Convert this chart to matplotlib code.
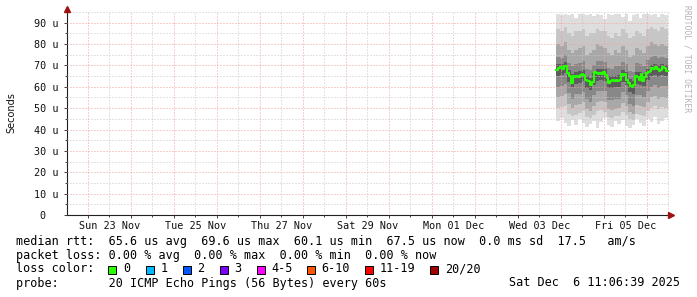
"""SmokePing-style latency graph: grey smoke bands, green median, rrdtool legend."""

import matplotlib

matplotlib.use("Agg")
import matplotlib.pyplot as plt
import pandas as pd
from matplotlib.patches import Rectangle
from matplotlib.ticker import FixedLocator, FuncFormatter

# --- data (microseconds) ------------------------------------------------------

VIEW_START = "2025-11-22 12:20"
VIEW_END = "2025-12-06 12:20"
SMOKE_START = "2025-12-03 21:30"  # smoke columns, one every 2 h
MEDIAN_START = "2025-12-03 21:30"  # median, one every hour

median_us = [
    68.0, 68.6, 69.2, 68.4, 69.5, 69.6,
    66.5,
    65.0, 61.8, 65.2, 64.7, 65.0, 64.8, 65.3, 66.1, 65.6,
    63.2, 62.6, 62.9, 61.0, 62.3,
    67.0, 66.4, 66.0, 66.6, 66.2, 66.8, 65.6,
    64.2, 61.8, 62.6, 63.0, 62.8, 63.2, 62.9, 63.4,
    66.2, 65.4, 66.0, 63.1,
    62.0, 60.6, 60.1, 61.0,
    65.2, 64.8,
    63.0, 66.2, 62.6, 64.6,
    66.3, 66.8, 67.5,
    69.0, 68.4, 69.2, 68.5, 67.6, 68.0, 69.4, 69.0, 67.5,
]

# sorted-ping envelopes per smoke column: outermost (max/min) to innermost
ping_max = [94.0, 93.6, 94.2, 93.8, 94.1, 92.0, 93.9, 94.2, 93.5, 94.0, 93.2,
            94.1, 93.8, 91.5, 94.0, 93.7, 94.2, 93.9, 92.6, 94.0, 90.6, 93.8,
            94.1, 92.2, 93.9, 94.0, 93.5, 94.1, 92.8, 94.0, 93.6]
ping_hi4 = [87, 86, 88, 85, 84, 86, 86, 87, 84, 85, 85, 87, 86, 86, 84, 83,
            85, 84, 87, 85, 83, 84, 86, 85, 84, 87, 88, 87, 86, 88, 87]
ping_hi3 = [80, 79, 81, 77, 76, 77, 78, 79, 75, 76, 77, 80, 79, 78, 76, 75,
            77, 76, 79, 77, 74, 75, 78, 77, 76, 79, 81, 80, 79, 80, 79]
ping_hi2 = [74, 73.5, 75, 71, 69.5, 70.5, 71, 72, 68.5, 68, 70, 72, 72, 71.5,
            69, 68.5, 69.5, 69.5, 71.5, 70.5, 67.5, 67, 71, 70.5, 69.5, 72.5,
            74, 74.5, 73.5, 74, 73.5]
ping_hi1 = [70.5, 70.8, 71.8, 68.0, 65.8, 66.9, 67.2, 68.0, 65.0, 64.3, 66.6,
            68.3, 68.5, 68.1, 65.2, 65.0, 65.2, 65.4, 67.9, 66.8, 63.6, 62.9,
            67.1, 66.8, 65.8, 68.5, 70.3, 70.8, 70.1, 70.7, 70.3]
ping_lo1 = [65.0, 65.6, 66.5, 62.3, 60.0, 61.4, 61.8, 62.6, 59.6, 58.6, 61.0,
            62.8, 63.1, 62.8, 59.4, 59.4, 59.8, 59.7, 62.3, 60.9, 57.5, 56.8,
            61.3, 61.0, 60.2, 63.1, 65.0, 65.5, 64.7, 65.4, 65.0]
ping_lo2 = [60.0, 60.5, 61.5, 57.0, 54.5, 56.5, 56.8, 57.6, 54.3, 53.0, 56.0,
            58.0, 58.2, 57.8, 54.0, 53.8, 54.5, 54.4, 57.5, 56.0, 52.0, 51.0,
            56.3, 56.0, 55.0, 58.2, 60.0, 60.8, 59.6, 60.5, 60.2]
ping_lo3 = [55.0, 55.5, 56.5, 52.0, 50.0, 51.5, 52.0, 53.0, 49.5, 48.5, 51.0,
            53.0, 53.4, 52.8, 49.5, 49.2, 49.8, 50.0, 52.6, 51.0, 48.0, 47.2,
            51.5, 51.2, 50.4, 53.0, 55.0, 55.6, 54.5, 55.2, 54.8]
ping_lo4 = [50.0, 50.5, 51.0, 47.5, 46.5, 47.0, 47.8, 48.5, 46.0, 45.5, 46.8,
            48.5, 49.0, 48.2, 45.8, 45.5, 46.2, 46.2, 48.2, 47.0, 45.0, 44.5,
            47.2, 47.0, 46.5, 48.6, 50.2, 50.8, 49.8, 50.4, 50.0]
ping_min = [44.0, 45.5, 43.0, 41.5, 44.5, 42.0, 45.0, 43.2, 41.0, 42.8, 44.0,
            40.8, 43.5, 45.2, 42.0, 41.2, 43.8, 42.5, 44.6, 41.8, 40.5, 42.2,
            44.8, 43.0, 41.6, 45.0, 43.4, 46.0, 42.6, 44.2, 45.4]

y_ticks = [0, 10, 20, 30, 40, 50, 60, 70, 80, 90]
y_minor_ticks = [5, 15, 25, 35, 45, 55, 65, 75, 85, 95]
y_tick_labels = ["0  ", "10 u", "20 u", "30 u", "40 u", "50 u", "60 u",
                 "70 u", "80 u", "90 u"]
label_days = ["2025-11-23", "2025-11-25", "2025-11-27", "2025-11-29",
              "2025-12-01", "2025-12-03", "2025-12-05"]

loss_labels = ["0", "1", "2", "3", "4-5", "6-10", "11-19", "20/20"]
loss_colors = ["#26ff00", "#00b8ff", "#0059ff", "#7e00ff", "#ff00ff",
               "#ff5500", "#ff0000", "#a10000"]

legend_rows = [
    "median rtt:  65.6 us avg  69.6 us max  60.1 us min  67.5 us now  0.0 ms sd  17.5   am/s",
    "packet loss: 0.00 % avg  0.00 % max  0.00 % min  0.00 % now",
    "loss color:",
    "probe:       20 ICMP Echo Pings (56 Bytes) every 60s",
]
timestamp = "Sat Dec  6 11:06:39 2025"

# --- style --------------------------------------------------------------------

W, H, DPI = 697, 297, 100
MONO = "DejaVu Sans Mono"
SMOKE_SHADES = ["#dedede", "#c6c6c6", "#a8a8a8", "#888888", "#5c5c5c",
                "#383838"]  # outer -> inner
MGRID = "#f2a0a0"
GRID = "#c8c8c8"
ARROW = "#a01010"
DOTS = (0, (1, 2))
LOSS_X = [108, 145.5, 182.5, 219.5, 256.5, 306.5, 365, 430]  # box left, px


def px(x, y):
    """Image pixel (top-left origin) -> figure fraction."""
    return x / W, 1 - y / H


def main():
    fig = plt.figure(figsize=(W / DPI, H / DPI), dpi=DPI, facecolor="white")
    ax = fig.add_axes([67 / W, (H - 215) / H, 602 / W, 203 / H])

    # smoke: nested step bands, lightest first
    edges = pd.date_range(SMOKE_START, periods=len(ping_max) + 1, freq="2h")
    bands = [(ping_min, ping_max), (ping_lo4, ping_hi4), (ping_lo3, ping_hi3),
             (ping_lo2, ping_hi2), (ping_lo1, ping_hi1)]
    for (lo, hi), shade in zip(bands, SMOKE_SHADES):
        ax.fill_between(edges, lo + lo[-1:], hi + hi[-1:], step="post",
                        color=shade, linewidth=0, zorder=1)

    times = pd.date_range(MEDIAN_START, periods=len(median_us) + 1, freq="1h")
    ax.step(times, median_us + median_us[-1:], where="post",
            color=loss_colors[0], linewidth=1.5, zorder=3)

    ax.set_xlim(pd.Timestamp(VIEW_START), pd.Timestamp(VIEW_END))
    ax.set_ylim(0, 95)

    # x: red grid at midnight, grey at noon, labels at noon every other day
    midnights = pd.date_range("2025-11-23", "2025-12-06", freq="D")
    noons = pd.date_range("2025-11-22 12:00", "2025-12-06 12:00", freq="D")
    wanted = {pd.Timestamp(d).date() for d in label_days}
    ax.xaxis.set_major_locator(FixedLocator(matplotlib.dates.date2num(midnights)))
    ax.xaxis.set_minor_locator(FixedLocator(matplotlib.dates.date2num(noons)))
    ax.xaxis.set_major_formatter(FuncFormatter(lambda v, p: ""))

    def noon_label(value, pos):
        day = matplotlib.dates.num2date(value)
        return day.strftime("%a %d %b") if day.date() in wanted else ""

    ax.xaxis.set_minor_formatter(FuncFormatter(noon_label))

    ax.set_yticks(y_ticks, y_tick_labels)
    ax.set_yticks(y_minor_ticks, minor=True)

    ax.set_axisbelow(False)
    ax.grid(which="major", color=MGRID, linewidth=0.72, linestyle=DOTS)
    ax.grid(which="minor", color=GRID, linewidth=0.72, linestyle=DOTS)

    for side in ("top", "right"):
        ax.spines[side].set_visible(False)
    for side in ("left", "bottom"):
        ax.spines[side].set_color("#202020")
        ax.spines[side].set_linewidth(0.8)
    ax.tick_params(which="both", direction="out", color="#404040", width=0.7)
    ax.tick_params(which="major", length=2.2)
    ax.tick_params(which="minor", length=1.5)
    ax.tick_params(axis="y", which="major", pad=4.0)
    ax.tick_params(axis="x", which="minor", pad=2.5)
    for label in ax.get_yticklabels() + ax.get_xticklabels(minor=True):
        label.set_fontfamily(MONO)
        label.set_fontsize(7.3)
        label.set_color("#101010")

    # rrdtool axis arrows
    ax.plot([0], [1.015], marker="^", markersize=4.5, color=ARROW,
            transform=ax.transAxes, clip_on=False, zorder=4)
    ax.plot([1.004], [0], marker=">", markersize=4.5, color=ARROW,
            transform=ax.transAxes, clip_on=False, zorder=4)

    fig.text(*px(11, 113), "Seconds", rotation=90, ha="center", va="center",
             fontsize=7, family="DejaVu Sans", color="#101010")
    fig.text(*px(687, 5), "RRDTOOL / TOBI OETIKER", rotation=270, ha="center",
             va="top", fontsize=5.8, family=MONO, color="#b4b4b4")

    # legend block under the graph
    for row, text in zip((241, 255, 269, 283), legend_rows):
        fig.text(*px(16, row), text, ha="left", va="center",
                 fontsize=8.5, family=MONO, color="black")
    fig.text(*px(680, 283), timestamp, ha="right", va="center",
             fontsize=8.5, family=MONO, color="black")

    for x, label, color in zip(LOSS_X, loss_labels, loss_colors):
        bx, by = px(x, 273.5)
        fig.patches.append(Rectangle((bx, by), 8 / W, 8 / H, transform=fig.transFigure,
                                     facecolor=color, edgecolor="black", linewidth=0.7))
        fig.text(*px(x + 15, 269), label, ha="left", va="center",
                 fontsize=8.5, family=MONO, color="black")

    fig.savefig("out.png", dpi=DPI, facecolor="white")


if __name__ == "__main__":
    main()
